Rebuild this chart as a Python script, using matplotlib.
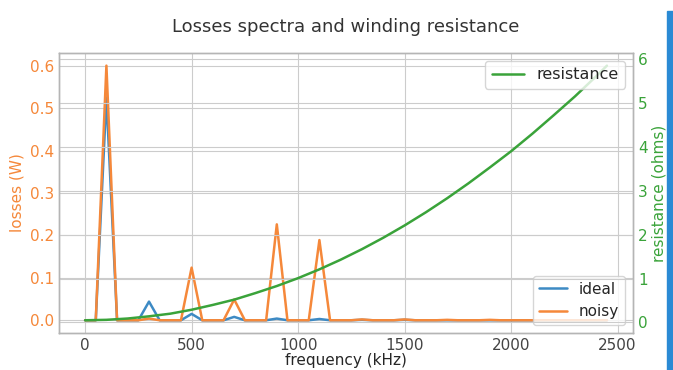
import matplotlib
matplotlib.use('Agg')
import matplotlib.pyplot as plt
from matplotlib.patches import Rectangle
import numpy as np

# Losses spectrum, sampled every 50 kHz (peaks at odd harmonics of 100 kHz)
freq = np.arange(0, 2451, 50)
harmonics = [100, 300, 500, 700, 900, 1100, 1300, 1500, 1700, 1900]
ideal_peaks = [0.525, 0.044, 0.015, 0.008, 0.004, 0.003, 0.001, 0.001, 0.0, 0.0]
noisy_peaks = [0.600, 0.004, 0.124, 0.049, 0.226, 0.189, 0.002, 0.002, 0.001, 0.001]

# Winding resistance
res_freq = [0, 100, 200, 300, 400, 500, 600, 700, 800, 900, 1000, 1100, 1200,
            1300, 1400, 1500, 1600, 1700, 1800, 1900, 2000, 2100, 2200, 2300,
            2400, 2450]
res_vals = [0.05, 0.06, 0.09, 0.14, 0.20, 0.29, 0.40, 0.52, 0.67, 0.83, 1.01,
            1.21, 1.43, 1.67, 1.93, 2.21, 2.51, 2.83, 3.17, 3.53, 3.90, 4.30,
            4.72, 5.15, 5.61, 5.85]

ideal = np.zeros(len(freq))
noisy = np.zeros(len(freq))
for h, a, b in zip(harmonics, ideal_peaks, noisy_peaks):
    ideal[freq == h] = a
    noisy[freq == h] = b

plt.style.use('seaborn-v0_8-whitegrid')
plt.rcParams['font.family'] = ['DejaVu Sans']

fig, ax = plt.subplots(figsize=(6.73, 3.70), dpi=100)
fig.subplots_adjust(left=0.0877, right=0.9406, top=0.857, bottom=0.10)

c_blue = '#3d8ac4'
c_orange = '#f5883a'
c_green = '#3aa33a'

ax.plot(freq, ideal, color=c_blue, lw=1.8, label='ideal')
ax.plot(freq, noisy, color=c_orange, lw=1.8, label='noisy')
ax.set_xlabel('frequency (kHz)', fontsize=11, labelpad=0)
ax.set_ylabel('losses (W)', color=c_orange, fontsize=11)
ax.tick_params(axis='y', labelcolor=c_orange, labelsize=11)
ax.tick_params(axis='x', labelsize=11, labelcolor='#444444')
ax.set_xticks([0, 500, 1000, 1500, 2000, 2500])
ax.legend(loc='lower right', frameon=True, fontsize=11, handlelength=1.8)

ax2 = ax.twinx()
ax2.plot(res_freq, res_vals, color=c_green, lw=1.8, label='resistance')
ax2.set_ylabel('resistance (ohms)', color=c_green, fontsize=11, labelpad=3)
ax2.tick_params(axis='y', labelcolor=c_green, labelsize=11)
ax2.legend(loc='upper right', frameon=True, fontsize=11.5)

for a in (ax, ax2):
    for s in a.spines.values():
        s.set_visible(True)
        s.set_color('#b5b5b5')
        s.set_linewidth(1.0)

ax.set_title('Losses spectra and winding resistance', fontsize=13, pad=15,
             color='#333333')

# blue slide strip at the right edge
fig.patches.append(Rectangle((667 / 673, 0), 6 / 673, 1 - 11 / 370,
                             transform=fig.transFigure, color='#2a8ad4',
                             zorder=10))

fig.savefig('out.png', dpi=100)
